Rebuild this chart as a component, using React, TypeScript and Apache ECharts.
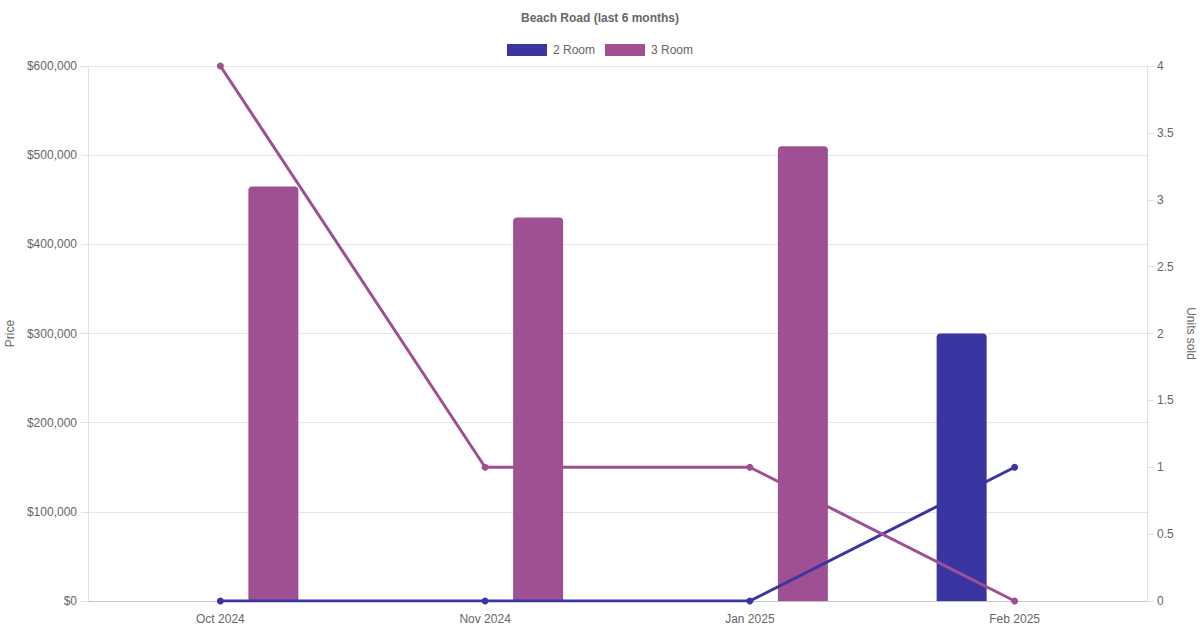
import React, { useEffect, useRef } from "react";
import * as echarts from "echarts";

const categories = ["Oct 2024", "Nov 2024", "Jan 2025", "Feb 2025"];
const price2Room = [null, null, null, 300000];
const price3Room = [465000, 430000, 510000, null];
const units2Room = [0, 0, 0, 1];
const units3Room = [4, 1, 1, 0];

const C2 = "#3a35a0";
const C3 = "#9e5093";
const FONT = "Liberation Sans, Arial, sans-serif";
const TXT = "#666666";

export default function App() {
  const ref = useRef<HTMLDivElement>(null);
  useEffect(() => {
    if (!ref.current) return;
    const chart = echarts.init(ref.current, undefined, { renderer: "svg" });
    chart.setOption({
      animation: false,
      backgroundColor: "#ffffff",
      textStyle: { fontFamily: FONT },
      title: {
        text: "Beach Road (last 6 months)",
        left: "center",
        top: 7,
        textStyle: { fontSize: 12, fontWeight: "bold", color: TXT, fontFamily: FONT },
      },
      legend: {
        top: 44,
        left: "center",
        padding: 0,
        itemWidth: 40,
        itemHeight: 12,
        itemGap: 10,
        icon: "rect",
        data: ["2 Room", "3 Room"],
        textStyle: { fontSize: 12, color: TXT, fontFamily: FONT, padding: [2, 0, 0, 1] },
      },
      grid: {
        left: 88,
        right: 53,
        top: 66,
        bottom: 29,
        containLabel: false,
        outerBoundsMode: "none",
      },
      xAxis: {
        type: "category",
        data: categories,
        axisLine: { show: true, lineStyle: { color: "#c4c4c4", width: 1 } },
        axisTick: { show: false },
        axisLabel: { color: TXT, fontSize: 12, margin: 12, fontFamily: FONT },
        splitLine: { show: false },
      },
      yAxis: [
        {
          type: "value",
          min: 0,
          max: 600000,
          interval: 100000,
          name: "Price",
          nameLocation: "middle",
          nameRotate: 90,
          nameGap: 71,
          nameTextStyle: { color: TXT, fontSize: 12, fontFamily: FONT },
          axisLine: { show: true, lineStyle: { color: "#e0e0e0" } },
          axisTick: { show: true, length: 7, lineStyle: { color: "#e0e0e0" } },
          axisLabel: {
            color: TXT,
            fontSize: 12,
            margin: 11,
            fontFamily: FONT,
            formatter: (v: number) => "$" + v.toLocaleString("en-US"),
          },
          splitLine: { show: true, lineStyle: { color: "#e5e5e5" } },
        },
        {
          type: "value",
          min: 0,
          max: 4,
          interval: 0.5,
          position: "right",
          name: "Units sold",
          nameLocation: "middle",
          nameRotate: -90,
          nameGap: 35,
          nameTextStyle: { color: TXT, fontSize: 12, fontFamily: FONT },
          axisLine: { show: true, lineStyle: { color: "#e0e0e0" } },
          axisTick: { show: true, length: 7, lineStyle: { color: "#e0e0e0" } },
          axisLabel: { color: TXT, fontSize: 12, margin: 10, fontFamily: FONT },
          splitLine: { show: false },
        },
      ],
      series: [
        {
          name: "2 Room",
          type: "bar",
          data: price2Room,
          barWidth: 50,
          barGap: "112%",
          itemStyle: { color: C2, borderRadius: [4, 4, 0, 0] },
          yAxisIndex: 0,
          z: 2,
        },
        {
          name: "3 Room",
          type: "bar",
          data: price3Room,
          barWidth: 50,
          barGap: "112%",
          itemStyle: { color: C3, borderRadius: [4, 4, 0, 0] },
          yAxisIndex: 0,
          z: 2,
        },
        {
          name: "2 Room",
          type: "line",
          data: units2Room,
          yAxisIndex: 1,
          symbol: "circle",
          symbolSize: 7,
          lineStyle: { color: C2, width: 3 },
          itemStyle: { color: C2 },
          z: 3,
        },
        {
          name: "3 Room",
          type: "line",
          data: units3Room,
          yAxisIndex: 1,
          symbol: "circle",
          symbolSize: 7,
          lineStyle: { color: C3, width: 3 },
          itemStyle: { color: C3 },
          z: 3,
        },
      ],
    });
    return () => chart.dispose();
  }, []);
  return (
    <div
      ref={ref}
      style={{ position: "fixed", left: 0, top: 0, width: 1200, height: 630, background: "#fff" }}
    />
  );
}
